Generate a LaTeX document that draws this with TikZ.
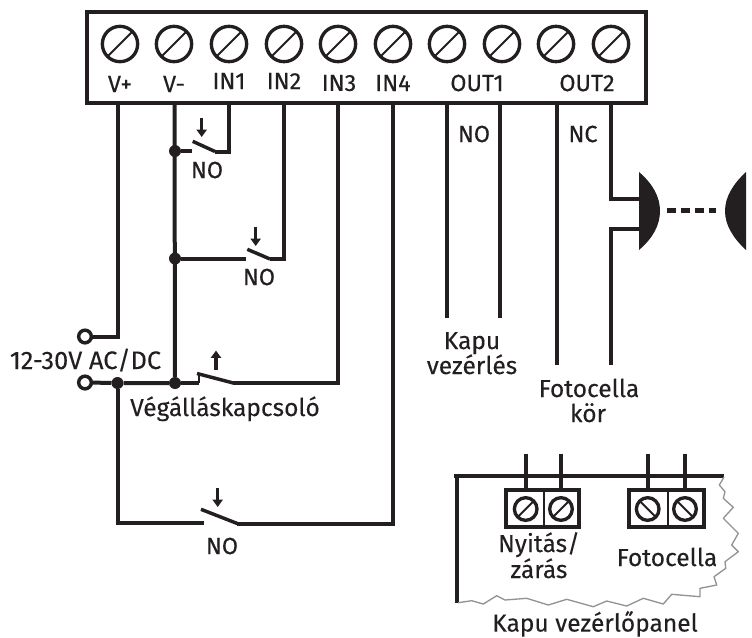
\documentclass[tikz,border=0pt]{standalone}
\usepackage{fontspec}
\setmainfont[FakeBold=0.35]{Fira Sans}
\newfontfamily\litefont[FakeBold=0.12]{Fira Sans}
\usetikzlibrary{arrows.meta}
\definecolor{ink}{HTML}{231F20}
\tikzset{
  wire/.style={draw=ink,line width=3pt,line cap=butt,line join=miter},
  blade/.style={draw=ink,line width=2.6pt},
  actuator/.style={draw=ink,line width=2.4pt,-{Triangle[length=5.5pt,width=7.5pt]}},
  screwhead/.style={circle,draw=ink,line width=2.5pt,minimum size=26.5pt,inner sep=0pt,outer sep=0pt},
  smallscrew/.style={circle,draw=ink,line width=2.5pt,minimum size=17pt,inner sep=0pt,outer sep=0pt},
  slot/.style={draw=ink,line width=1.5pt},
  dot/.style={circle,fill=ink,minimum size=9pt,inner sep=0pt,outer sep=0pt},
  openterm/.style={circle,draw=ink,fill=white,line width=2.6pt,minimum size=9.5pt,inner sep=0pt,outer sep=0pt},
  lab/.style={text=ink,font=\fontsize{17.5}{20}\selectfont,inner sep=0pt},
  big/.style={text=ink,font=\litefont\fontsize{18.4}{22}\selectfont,inner sep=0pt}
}
\begin{document}
\begin{tikzpicture}[x=0.75pt,y=-0.75pt]
\useasboundingbox (0,0) rectangle (752,637);
% terminal strip
\node[draw=ink,line width=3pt,minimum width=419pt,minimum height=68.25pt,inner sep=0pt,outer sep=0pt] (strip) at (366.5,57.5) {};
\foreach \n/\x in {1/120,2/174,3/229,4/284,5/338,6/393,7/447,8/502,9/556,10/611}{
  \node[screwhead] (s\n) at (\x,44) {};
  \draw[slot] (s\n.225) -- (s\n.45);
}
\foreach \n/\x/\y/\t in {a/120/84/V+,b/174/84/V-,c/229/81/IN1,d/284/81/IN2,e/339/83/IN3,f/393/83/IN4,g/477/83/OUT1,h/587/83/OUT2,i/474/134/NO,j/583/134/NC}{
  \node[lab] (t\n) at (\x,\y) {\t};
}
% junctions
\node[dot] (j1) at (175,151) {};
\node[dot] (j2) at (175,258.5) {};
\node[dot] (j3) at (175,383) {};
\node[dot] (j4) at (117.5,383) {};
\node[openterm] (p1) at (85,336.5) {};
\node[openterm] (p2) at (85,382.5) {};
% terminal exits
\coordinate (w1) at (118,105);
\coordinate (w2) at (174.5,105);
\coordinate (w3) at (229,105);
\coordinate (w4) at (283.5,105);
\coordinate (w5) at (338,105);
\coordinate (w6) at (392.5,105);
\coordinate (w7) at (446.7,105);
\coordinate (w8) at (500,105);
\coordinate (w9) at (557,105);
\coordinate (w10) at (610.7,105);
% V+ and V-
\draw[wire] (w1) |- (p1);
\draw[wire] (w2) -- (j3);
\draw[wire] (p2) -- (j4) -- (j3);
% switch 1
\coordinate (a1) at (192,151); \coordinate (b1) at (192.7,141.3); \coordinate (c1) at (215,151.5);
\draw[wire] (j1) -- (a1);
\draw[blade] (b1) -- (c1);
\draw[wire] (c1) -| (w3);
\coordinate (ar1a) at (201.7,118); \coordinate (ar1b) at (201.7,137);
\draw[actuator] (ar1a) -- (ar1b);
\node[lab] (no1) at (207,170) {NO};
% switch 2
\coordinate (a2) at (246,258.5); \coordinate (b2) at (247.3,249.3); \coordinate (c2) at (270,259);
\draw[wire] (j2) -- (a2);
\draw[blade] (b2) -- (c2);
\draw[wire] (c2) -| (w4);
\coordinate (ar2a) at (255.7,226.7); \coordinate (ar2b) at (255.7,246);
\draw[actuator] (ar2a) -- (ar2b);
\node[lab] (no2) at (259,277) {NO};
% limit switch
\coordinate (a3) at (199,383); \coordinate (a3t) at (197,373.5); \coordinate (c3) at (233.3,383);
\draw[wire] (j3) -- (a3);
\draw[draw=ink,line width=2.2pt] (a3) -- (a3 |- a3t);
\draw[blade] (a3t) -- (c3);
\draw[wire] (c3) -| (w5);
\coordinate (ar3a) at (216,369.5); \coordinate (ar3b) at (216,350.5);
\draw[actuator] (ar3a) -- (ar3b);
\node[big,anchor=base] (vk) at (225,416) {Végálláskapcsoló};
\node[big,anchor=base,font=\litefont\fontsize{19}{22}\selectfont] (volt) at (85.5,369) {12-30V AC/DC};
% switch 4
\coordinate (a4) at (203.5,523); \coordinate (b4) at (201,509.3); \coordinate (c4) at (237.3,523.5);
\draw[wire] (j4) |- (a4);
\draw[blade] (b4) -- (c4);
\draw[wire] (c4) -| (w6);
\coordinate (ar4a) at (217.7,487.5); \coordinate (ar4b) at (217.7,507);
\draw[actuator] (ar4a) -- (ar4b);
\node[lab] (no4) at (222,546) {NO};
% outputs
\coordinate (e7) at (446.7,318);
\coordinate (e8) at (500,318);
\coordinate (e9) at (557,365);
\coordinate (e10) at (610.7,365);
\draw[wire] (w7) -- (e7);
\draw[wire] (w8) -- (e8);
\draw[wire] (w9) -- (e9);
\node[big,anchor=base] (kv1) at (472,349) {Kapu};
\node[big,anchor=base] (kv2) at (472,374) {vezérlés};
\node[big,anchor=base] (fk1) at (589,397) {Fotocella};
\node[big,anchor=base] (fk2) at (588,422) {kör};
% photocell
\coordinate (h1) at (640,198.7);
\coordinate (h2) at (640,228.7);
\draw[wire] (w10) |- (h1);
\draw[wire] (h2) -| (e10);
\fill[ink] (639,172) .. controls (653,184) and (660,197) .. (660,211) .. controls (660,225) and (653,238) .. (639,250) -- cycle;
\fill[ink] (746,172) .. controls (733,184) and (725,197) .. (725,211) .. controls (725,225) and (733,238) .. (746,250) -- cycle;
\coordinate (d1) at (667,210.5); \coordinate (d2) at (716,210.5);
\draw[draw=ink,line width=3.4pt,dash pattern=on 6.5pt off 4pt] (d1) -- (d2);
% gate panel
\coordinate (pa) at (454,476); \coordinate (pb) at (724,476); \coordinate (pc) at (457,476); \coordinate (pd) at (457,603);
\draw[wire] (pa) -- (pb);
\draw[wire] (pc) -- (pd);
\draw[draw=gray!85,line width=1pt,line join=round] (724,477)
 -- (719.3,485) -- (725,491.7) -- (723.3,498.3) -- (733.3,507.3) -- (723.3,518.3) -- (738.3,533.3) -- (731.7,545) -- (738.3,551.7) -- (725,561.7) -- (725.7,568.3) -- (714,576.7) -- (716.7,585) -- (700,588.3) -- (700,596.7) -- (671.7,594.3) -- (663.3,604) -- (643.3,598.3) -- (626.7,606) -- (606.7,601) -- (593.3,606.7) -- (566.7,599.3) -- (548.3,605) -- (526.7,598.3) -- (505,600) -- (496.7,595.7) -- (483.3,604) -- (471.7,600.7) -- (458,602.7);
% panel terminals
\node[draw=ink,line width=3pt,minimum width=55pt,minimum height=27.5pt,inner sep=0pt,outer sep=0pt] (blk1) at (542.3,508.7) {};
\node[draw=ink,line width=3pt,minimum width=56pt,minimum height=27.5pt,inner sep=0pt,outer sep=0pt] (blk2) at (666.3,508.7) {};
\coordinate (dv1) at (544,490); \coordinate (dv1b) at (544,527);
\coordinate (dv2) at (668,490); \coordinate (dv2b) at (668,527);
\draw[draw=ink,line width=1.5pt] (dv1) -- (dv1b);
\draw[draw=ink,line width=1.5pt] (dv2) -- (dv2b);
\foreach \n/\x/\a/\b in {1/525.7/225/45,2/561/225/45,3/647.7/135/315,4/685/135/315}{
  \node[smallscrew] (q\n) at (\x,509) {};
  \draw[slot] (q\n.\a) -- (q\n.\b);
  \coordinate (qt\n) at (\x,453.5);
  \coordinate (qb\n) at (\x,489);
  \draw[wire] (qt\n) -- (qb\n);
}
\node[big,anchor=base] (ny) at (539,552) {Nyitás/};
\node[big,anchor=base] (za) at (539,578) {zárás};
\node[big,anchor=base] (fo) at (667,566) {Fotocella};
\node[big,anchor=base] (kp) at (595,631.5) {Kapu vezérlőpanel};
\end{tikzpicture}
\end{document}
